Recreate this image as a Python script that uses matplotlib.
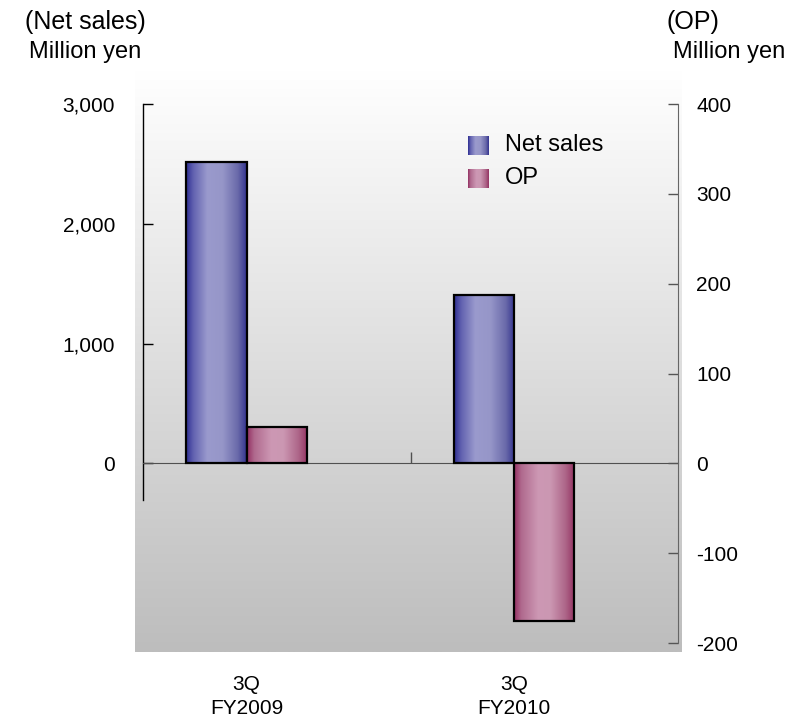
import numpy as np
import matplotlib.pyplot as plt
from matplotlib.colors import LinearSegmentedColormap
from matplotlib.ticker import StrMethodFormatter
import matplotlib.transforms as mtransforms

plt.rcParams['font.family'] = ['Liberation Sans', 'DejaVu Sans']
plt.rcParams['axes.unicode_minus'] = False

# Data (million yen)
periods = ["3Q\nFY2009", "3Q\nFY2010"]
net_sales = [2515, 1403]
op = [40, -175]

# Gradient fills for the bars
blue_cmap = LinearSegmentedColormap.from_list(
    "blue", [(0.0, "#2e2e92"), (0.12, "#6262b0"), (0.35, "#9a9acd"),
             (0.6, "#9696c8"), (0.85, "#6a6aaa"), (1.0, "#33338f")])
pink_cmap = LinearSegmentedColormap.from_list(
    "pink", [(0.0, "#933062"), (0.12, "#b06a8e"), (0.4, "#cd98b4"),
             (0.6, "#cb97b2"), (0.85, "#ad6588"), (1.0, "#943262")])
grad = np.linspace(0, 1, 256).reshape(1, -1)

fig = plt.figure(figsize=(7.99, 7.2), dpi=100)

# plot-area backdrop: white fading to grey
bg = fig.add_axes([0.169, 0.0944, 0.6834, 0.808], zorder=0)
bg.imshow(np.linspace(0, 1, 256).reshape(-1, 1),
          cmap=LinearSegmentedColormap.from_list("bg", ["#ffffff", "#bdbdbd"]),
          aspect='auto', extent=[0, 1, 0, 1], origin='upper')
bg.axis('off')

ax = fig.add_axes([0.179, 0.1069, 0.6696, 0.7486])
ax2 = ax.twinx()
ax.set_zorder(1)
ax2.set_zorder(2)
ax.patch.set_visible(False)
ax2.patch.set_visible(False)

width = 0.225
shift = 0.1126
centers = np.arange(len(periods)) + 0.5 - shift

bars1 = ax.bar(centers - width / 2, net_sales, width, facecolor='none',
               edgecolor='black', linewidth=1.6, zorder=3)
bars2 = ax2.bar(centers + width / 2, op, width, facecolor='none',
                edgecolor='black', linewidth=1.6, zorder=3)


def fill_gradient(axis, bars, cmap):
    for b in bars:
        x0, y0 = b.get_x(), b.get_y()
        x1, y1 = x0 + b.get_width(), y0 + b.get_height()
        im = axis.imshow(grad, cmap=cmap, aspect='auto', interpolation='bilinear',
                         extent=[x0, x1, min(y0, y1), max(y0, y1)], zorder=2)
        im.set_clip_path(b)


fill_gradient(ax, bars1, blue_cmap)
fill_gradient(ax2, bars2, pink_cmap)

# left axis
ax.set_yticks([0, 1000, 2000, 3000])
ax.yaxis.set_major_formatter(StrMethodFormatter('{x:,.0f}'))
ax.tick_params(axis='y', direction='in', length=7, width=1, pad=20,
               labelsize=15, color='black')
ax.spines['left'].set_bounds(-310, 3000)
ax.spines['left'].set_linewidth(1)
ax.spines['top'].set_visible(False)
ax.spines['right'].set_visible(False)

# zero line with the category divider tick
ax.spines['bottom'].set_position(('data', 0))
ax.spines['bottom'].set_color('#505050')
ax.set_xticks([1])
ax.set_xticklabels([])
ax.tick_params(axis='x', direction='in', length=8, width=1, color='#505050')

# right axis
ax2.set_yticks([-200, -100, 0, 100, 200, 300, 400])
ax2.tick_params(axis='y', direction='in', length=7, width=1, pad=13,
                labelsize=15, color='#555555')
ax2.spines['right'].set_color('#666666')
for s in ['top', 'bottom', 'left']:
    ax2.spines[s].set_visible(False)
ax2.xaxis.set_visible(False)

# category labels under the plot
trans = mtransforms.blended_transform_factory(ax.transData, ax.transAxes)
for c, lab in zip(centers, periods):
    ax.text(c, -0.06, lab, transform=trans, ha='center', va='top',
            fontsize=15, linespacing=1.3)

# legend
for (ya, yb, yt, cmap, name) in [(0.9054, 0.9406, 0.924, blue_cmap, "Net sales"),
                                 (0.8442, 0.8794, 0.8627, pink_cmap, "OP")]:
    ax2.imshow(grad, cmap=cmap, aspect='auto', interpolation='bilinear',
               extent=[0.6075, 0.645, ya, yb], transform=ax2.transAxes, zorder=4)
    ax2.text(0.6766, yt, name, transform=ax2.transAxes, va='center',
             ha='left', fontsize=17)

ax.set_xlim(0, 2)
ax.set_ylim(-1500, 3000)
ax2.set_ylim(-200, 400)

# axis unit captions
fig.text(85 / 799, 0.969, "(Net sales)", ha='center', va='center', fontsize=18)
fig.text(85 / 799, 0.928, "Million yen", ha='center', va='center', fontsize=17)
fig.text(693 / 799, 0.969, "(OP)", ha='center', va='center', fontsize=18)
fig.text(729 / 799, 0.928, "Million yen", ha='center', va='center', fontsize=17)

fig.savefig("out.png", dpi=100)
